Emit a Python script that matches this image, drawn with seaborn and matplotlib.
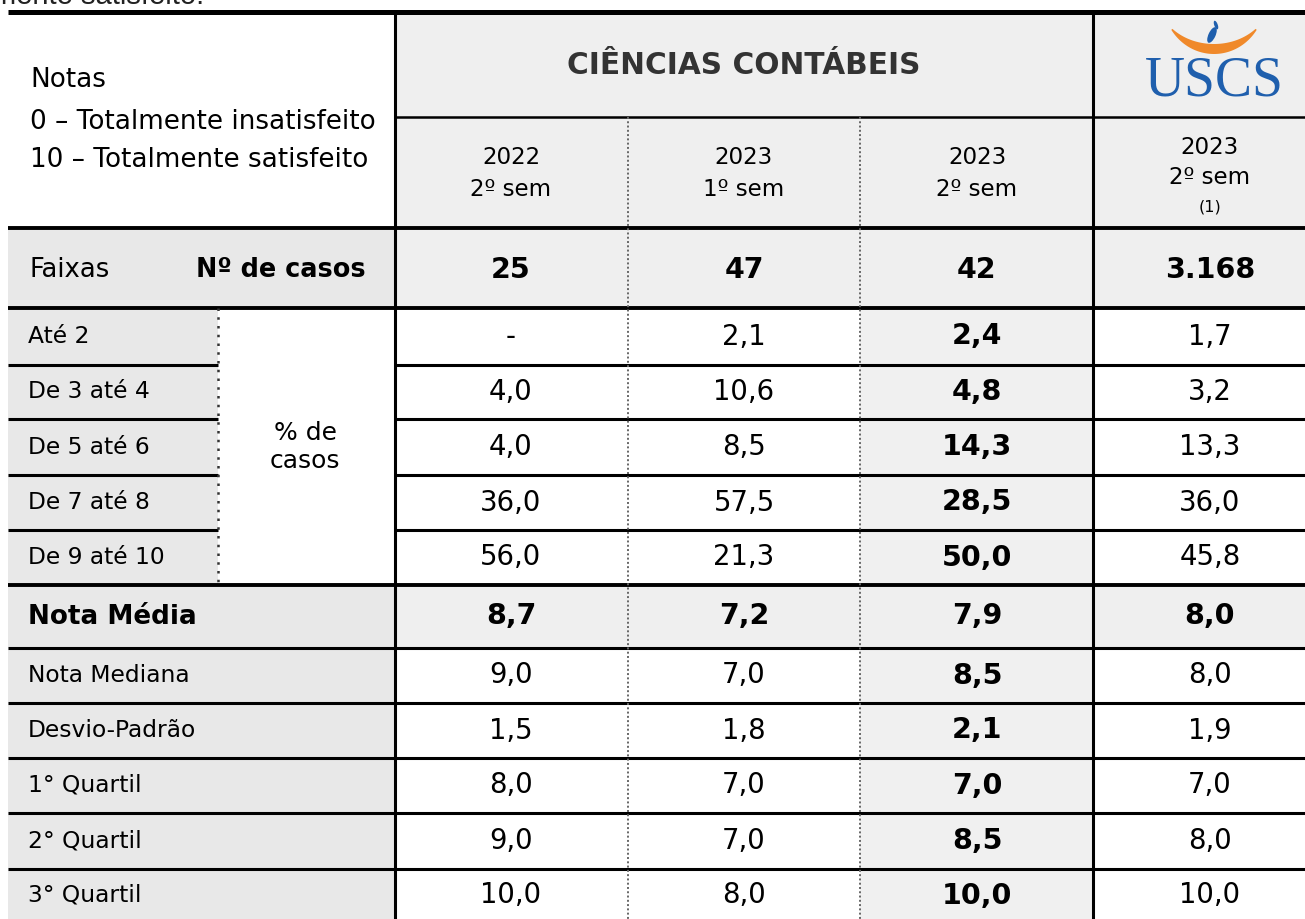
import numpy as np
import matplotlib
matplotlib.use("Agg")
import matplotlib.pyplot as plt
import matplotlib.patches as mpatches
import seaborn as sns

# table content
periods = ["2022\n2º sem", "2023\n1º sem", "2023\n2º sem", "2023\n2º sem"]
n_casos = ["25", "47", "42", "3.168"]
faixas = ["Até 2", "De 3 até 4", "De 5 até 6", "De 7 até 8", "De 9 até 10"]
stats_labels = ["Nota Média", "Nota Mediana", "Desvio-Padrão",
                "1° Quartil", "2° Quartil", "3° Quartil"]

pct_2022_2 = [None, 4.0, 4.0, 36.0, 56.0]
pct_2023_1 = [2.1, 10.6, 8.5, 57.5, 21.3]
pct_2023_2 = [2.4, 4.8, 14.3, 28.5, 50.0]
pct_uscs = [1.7, 3.2, 13.3, 36.0, 45.8]

stats_2022_2 = [8.7, 9.0, 1.5, 8.0, 9.0, 10.0]
stats_2023_1 = [7.2, 7.0, 1.8, 7.0, 7.0, 8.0]
stats_2023_2 = [7.9, 8.5, 2.1, 7.0, 8.5, 10.0]
stats_uscs = [8.0, 8.0, 1.9, 7.0, 8.0, 10.0]

pct_cols = [pct_2022_2, pct_2023_1, pct_2023_2, pct_uscs]
stats_cols = [stats_2022_2, stats_2023_1, stats_2023_2, stats_uscs]

# layout (pixels)
X0, XL, XM, XR = 8, 218, 395, 1305
col_edges = [395, 628, 860, 1093, 1327]
col_centers = [511, 744, 977, 1210]
pct_edges = [308, 365, 419, 475, 530, 585]
stat_edges = [585, 648, 703, 758, 813, 869, 925]

GREY_L = "#e8e8e8"
GREY_R = "#efefef"
GREY_C = "#f0f0f0"

FS_NUM = 19.8
FS_BNUM = 20.5
FS_LAB = 16.8


def fmt(v):
    if v is None:
        return "-"
    return f"{v:.1f}".replace(".", ",")


sns.set_theme(style="white")
plt.rcParams["font.family"] = ["DejaVu Sans"]
plt.rcParams["text.color"] = "black"

fig = plt.figure(figsize=(13.05, 9.19), dpi=100)
ax = fig.add_axes([0, 0, 1, 1])
ax.set_xlim(0, 1305)
ax.set_ylim(919, 0)
ax.axis("off")


def rect(x0, y0, x1, y1, c):
    ax.add_patch(mpatches.Rectangle((x0, y0), x1 - x0, y1 - y0, facecolor=c,
                                    edgecolor="none", zorder=0))


# backgrounds
rect(XM, 12, XR, 228, GREY_R)
rect(X0, 228, XM, 308, GREY_L)
rect(XM, 228, XR, 308, GREY_R)
rect(X0, 308, XL, 585, GREY_L)
rect(col_edges[2], 308, col_edges[3], 919, GREY_C)
rect(X0, 585, XM, 648, GREY_L)
rect(XM, 585, XR, 648, GREY_R)
rect(X0, 648, XM, 919, GREY_L)

# cut text from the slide above
ax.text(-8, 4, "mente satisfeito.", fontsize=21, ha="left", va="baseline",
        family="Liberation Sans", color="#222222")

# header left
ax.text(30, 80, "Notas", fontsize=18.9, va="center")
ax.text(30, 122, "0 – Totalmente insatisfeito", fontsize=18.9, va="center")
ax.text(30, 160, "10 – Totalmente satisfeito", fontsize=18.9, va="center")

ax.text(744, 66, "CIÊNCIAS CONTÁBEIS", fontsize=21.3, fontweight="bold",
        ha="center", va="center", color="#333333")

# logo
t = np.linspace(np.radians(40), np.radians(140), 80)
w = 1.5 + 8.5 * np.sin((t - t[0]) / (t[-1] - t[0]) * np.pi)
cx, cy, R = 1214, -6, 55
outer = np.column_stack([cx + (R + w / 2) * np.cos(t), cy + (R + w / 2) * np.sin(t)])
inner = np.column_stack([cx + (R - w / 2) * np.cos(t), cy + (R - w / 2) * np.sin(t)])
ax.add_patch(mpatches.Polygon(np.vstack([outer, inner[::-1]]), closed=True,
                              facecolor="#f0892a", edgecolor="none"))
ax.add_patch(mpatches.Ellipse((1212, 35), 7, 17, angle=25, facecolor="#1f5fad",
                              edgecolor="none"))
ax.add_patch(mpatches.Ellipse((1216, 25), 3.5, 9, angle=-20, facecolor="#1f5fad",
                              edgecolor="none"))
ax.text(1214, 81, "USCS", fontsize=40, family="Liberation Serif", color="#1f5fad",
        ha="center", va="center")

# period headers
for i, (c, p) in enumerate(zip(col_centers, periods)):
    yr, sem = p.split("\n")
    if i < 3:
        ax.text(c, 158, yr, fontsize=16.6, ha="center", va="center")
        ax.text(c, 189, sem, fontsize=16.6, ha="center", va="center")
    else:
        ax.text(c, 147, yr, fontsize=16.6, ha="center", va="center")
        ax.text(c, 177, sem, fontsize=16.6, ha="center", va="center")
        ax.text(c, 207, "(1)", fontsize=11.5, ha="center", va="center")

# number of cases row
ax.text(30, 270, "Faixas", fontsize=18.6, va="center")
ax.text(366, 270, "Nº de casos", fontsize=18.4, fontweight="bold", ha="right", va="center")
for c, n in zip(col_centers, n_casos):
    ax.text(c, 270, n, fontsize=FS_BNUM, fontweight="bold", ha="center", va="center")

# percentage rows
for r, lab in enumerate(faixas):
    yc = (pct_edges[r] + pct_edges[r + 1]) / 2
    ax.text(28, yc, lab, fontsize=FS_LAB, va="center")
    for j, (c, col) in enumerate(zip(col_centers, pct_cols)):
        bold = j == 2
        ax.text(c, yc, fmt(col[r]), fontsize=FS_BNUM if bold else FS_NUM,
                ha="center", va="center", fontweight="bold" if bold else "normal")
ax.text(305, 447, "% de\ncasos", fontsize=18, ha="center", va="center", linespacing=1.25)

# statistics rows
for r, lab in enumerate(stats_labels):
    yc = (stat_edges[r] + min(stat_edges[r + 1], 922)) / 2
    bold_row = r == 0
    ax.text(28, yc, lab, fontsize=18.9 if bold_row else FS_LAB, va="center",
            fontweight="bold" if bold_row else "normal")
    for j, (c, col) in enumerate(zip(col_centers, stats_cols)):
        bold = j == 2 or bold_row
        ax.text(c, yc, fmt(col[r]), fontsize=FS_BNUM if bold else FS_NUM,
                ha="center", va="center", fontweight="bold" if bold else "normal")

# rules
K = "#000000"
ax.hlines(12, X0, XR, color=K, lw=3.6)
ax.hlines(117, XM, XR, color=K, lw=1.8)
for y in [228, 308, 585]:
    ax.hlines(y, X0, XR, color=K, lw=2.8)
for y in pct_edges[1:-1]:
    ax.hlines(y, X0, XL, color=K, lw=2.2)
    ax.hlines(y, XM, XR, color=K, lw=2.2)
for y in stat_edges[1:-1]:
    ax.hlines(y, X0, XR, color=K, lw=2.2)
ax.vlines([XM, col_edges[3]], 12, 919, color=K, lw=2.2)
ax.vlines(col_edges[1:3], 117, 919, color="#666666", lw=1.4, linestyles=(0, (1, 1.2)))
ax.vlines(XL, 308, 585, color="#333333", lw=1.8, linestyles=(0, (1, 2.5)))

fig.savefig("out.png", dpi=100)
